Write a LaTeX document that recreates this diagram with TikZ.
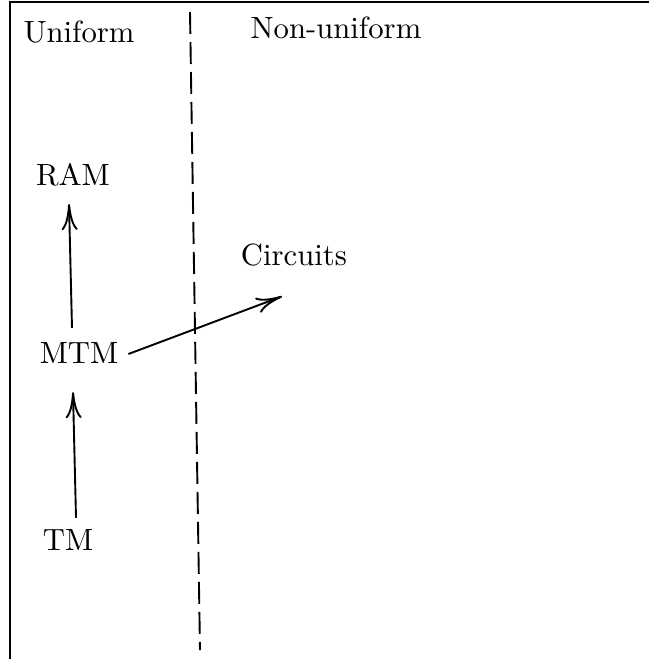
\documentclass[tikz,border=0pt]{standalone}
\usepackage{fontspec}
\setmainfont{lmroman10-regular.otf}
\usetikzlibrary{arrows.meta}
\begin{document}
\begin{tikzpicture}[x=1pt,y=-1pt,
  lbl/.style={font=\fontsize{30.7}{37}\selectfont, inner sep=10pt},
  conn/.style={line width=1.9pt, -{Computer Modern Rightarrow[length=26pt,width=16pt,line width=1.9pt]}},
  frame/.style={line width=1.2pt},
  divider/.style={line width=1.9pt, dash pattern=on 22pt off 8pt}]
\useasboundingbox (0,0) rectangle (649,659);
\coordinate (fa) at (10,659);
\coordinate (fb) at (10,2);
\coordinate (fc) at (649,2);
\draw[frame] (fa) -- (fb) -- (fc);
\coordinate (dtop) at (190,12);
\coordinate (dbot) at (200,650);
\draw[divider] (dtop) -- (dbot);
\node[lbl] (uni) at (79,32) {Uniform};
\node[lbl] (non) at (336,28) {Non-uniform};
\node[lbl] (ram) at (73,175) {RAM};
\node[lbl] (circ) at (294,255) {Circuits};
\node[lbl] (mtm) at (79,353) {MTM};
\node[lbl] (tm) at (68,540) {TM};
\draw[conn] ([xshift=-7pt,yshift=4.5pt]mtm.north) -- ([xshift=-4pt,yshift=-7.5pt]ram.south);
\draw[conn] ([xshift=8pt,yshift=1.5pt]tm.north) -- ([xshift=-6pt,yshift=-18.5pt]mtm.south);
\draw[conn] ([yshift=-1pt]mtm.east) -- ([xshift=-12pt,yshift=-20pt]circ.south);
\end{tikzpicture}
\end{document}
